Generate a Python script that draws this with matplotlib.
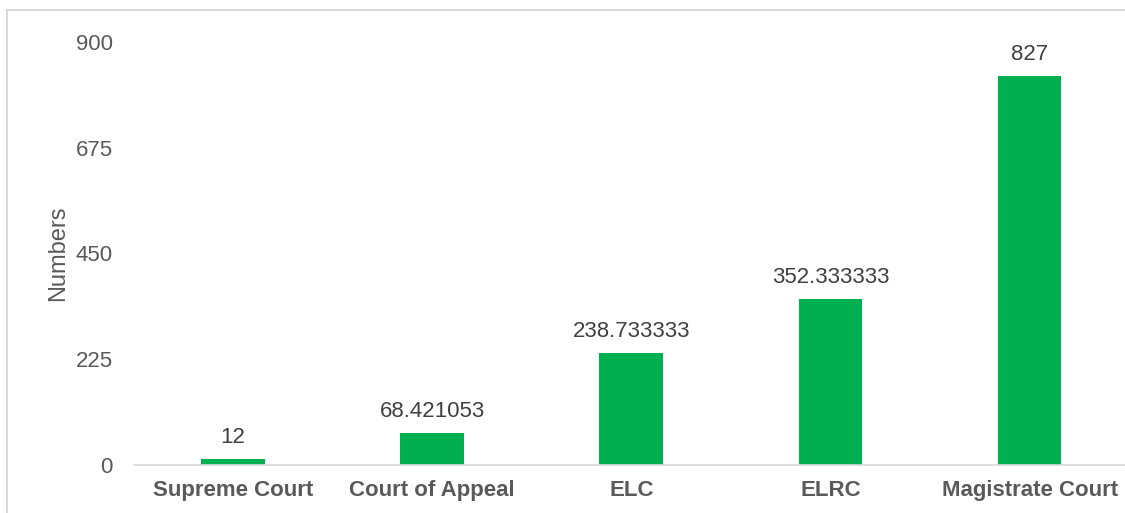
import matplotlib.pyplot as plt
from matplotlib.patches import Rectangle

plt.rcParams['font.family'] = ['Liberation Sans', 'DejaVu Sans']

courts = ["Supreme Court", "Court of Appeal", "ELC", "ELRC", "Magistrate Court"]
numbers = [12, 68.421053, 238.733333, 352.333333, 827]
value_labels = ["12", "68.421053", "238.733333", "352.333333", "827"]
yticks = [0, 225, 450, 675, 900]

fig = plt.figure(figsize=(11.25, 5.13), dpi=100)
ax = fig.add_axes([0.1187, 0.0936, 0.885, 0.8246])

# light chart border, runs off the right edge
fig.patches.append(Rectangle((7 / 1125, -0.1), 1.2, 1 - 10 / 513 + 0.1,
                             transform=fig.transFigure, fill=False,
                             edgecolor="#d9d9d9", linewidth=1.5))

x = list(range(len(courts)))
ax.bar(x, numbers, width=0.32, color="#00b050")
for xi, v, lab in zip(x, numbers, value_labels):
    ax.annotate(lab, (xi, v), xytext=(0, 8), textcoords="offset points",
                ha="center", va="bottom", fontsize=16, color="#404040")

ax.set_xlim(-0.5, 4.5)
ax.set_ylim(0, 900)
ax.set_yticks(yticks)
ax.set_xticks(x)
ax.set_xticklabels(courts, fontsize=16, fontweight="bold", color="#595959")
ax.tick_params(axis="y", length=0, labelsize=16, labelcolor="#595959", pad=15)
ax.tick_params(axis="x", length=0, pad=11)
ax.set_ylabel("Numbers", fontsize=17, color="#595959", labelpad=5)

for s in ["top", "right", "left"]:
    ax.spines[s].set_visible(False)
ax.spines["bottom"].set_color("#d9d9d9")
ax.spines["bottom"].set_linewidth(1.2)

plt.savefig("out.png", dpi=100)
